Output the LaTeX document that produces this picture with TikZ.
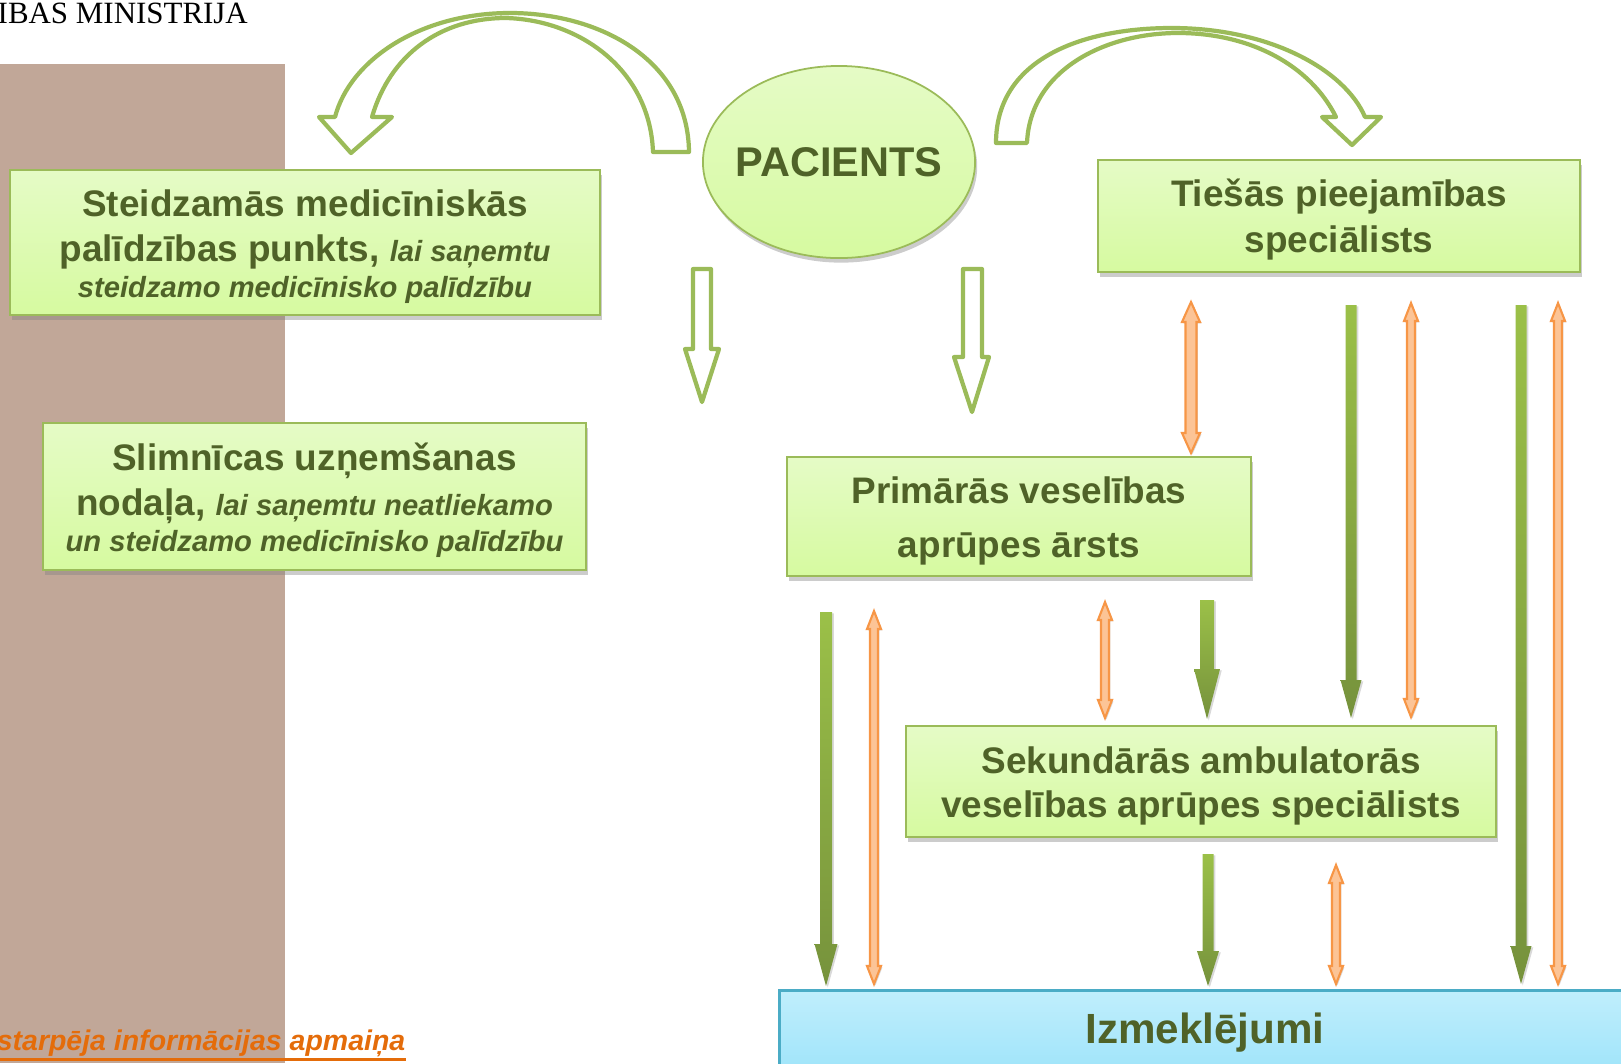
\documentclass[tikz,border=0pt]{standalone}
\usepackage{fontspec}
\setmainfont{Liberation Sans}
\newfontfamily\ministryfont{Liberation Serif}
\usetikzlibrary{arrows.meta,positioning,shapes.geometric,shadows,calc}

\definecolor{boxline}{RGB}{155,187,89}
\definecolor{boxtop}{RGB}{229,251,198}
\definecolor{boxbot}{RGB}{214,250,160}
\definecolor{boxtext}{RGB}{79,98,40}
\definecolor{arrtop}{RGB}{155,192,72}
\definecolor{arrbot}{RGB}{118,146,60}
\definecolor{oraline}{RGB}{247,150,70}
\definecolor{orafill}{RGB}{252,196,150}
\definecolor{brownbar}{RGB}{193,167,152}
\definecolor{izmline}{RGB}{75,172,198}
\definecolor{izmtop}{RGB}{192,238,252}
\definecolor{izmbot}{RGB}{158,228,250}
\definecolor{linkora}{RGB}{228,108,10}

\newcommand{\smit}{\itshape\fontsize{8.3}{10}\selectfont}
\newcommand{\topgap}{\rule{0pt}{10pt}}

\begin{document}
\begin{tikzpicture}[x=0.01cm, y=-0.01cm,
  box/.style={draw=boxline, line width=0.5pt, top color=boxtop, bottom color=boxbot,
    text=boxtext, font=\bfseries\fontsize{10.5}{12.8}\selectfont, align=center, inner sep=0pt,
    drop shadow={shadow xshift=0.6pt, shadow yshift=-1.3pt, opacity=0.4}},
  hollow/.style={draw=boxline, line width=1.2pt, fill=white, line join=round},
  greenarr/.style={top color=arrtop, bottom color=arrbot,
    drop shadow={shadow xshift=0.5pt, shadow yshift=-0.4pt, opacity=0.3}},
  orangearr/.style={draw=oraline, fill=orafill, line width=0.6pt,
    drop shadow={shadow xshift=0.4pt, shadow yshift=-0.4pt, opacity=0.3}}]
  \useasboundingbox (0,0) rectangle (1621,1063);

  % background bar and heading
  \fill[brownbar] (0,64) rectangle (285,1063);
  \node[anchor=base west, inner sep=0pt, font=\ministryfont\fontsize{8.8}{10}\selectfont] (ministry) at (-3,23) {IBAS MINISTRIJA};

  % boxes
  \node[box, minimum width=5.9cm, minimum height=1.45cm] (steid) at (305,242.5)
    {\topgap Steidzamās medicīniskās\\ palīdzības punkts, {\smit lai saņemtu}\\[-2.5pt] {\smit steidzamo medicīnisko palīdzību}};
  \node[box, minimum width=5.43cm, minimum height=1.47cm] (slim) at (314.5,496.5)
    {\topgap Slimnīcas uzņemšanas\\ nodaļa, {\smit lai saņemtu neatliekamo}\\[-2.6pt] {\smit un steidzamo medicīnisko palīdzību}};
  \node[box, ellipse, inner xsep=-3pt, minimum width=2.72cm, minimum height=1.92cm, font=\bfseries\fontsize{11.8}{14}\selectfont] (pac) at (839,162) {PACIENTS};
  \node[box, minimum width=4.82cm, minimum height=1.12cm, font=\bfseries\fontsize{10.5}{13}\selectfont] (ties) at (1339,216)
    {\topgap Tiešās pieejamības\\ speciālists};
  \node[box, minimum width=4.64cm, minimum height=1.19cm, font=\bfseries\fontsize{10.5}{15.4}\selectfont] (prim) at (1019,516.5)
    {\topgap Primārās veselības\\ aprūpes ārsts};
  \node[box, minimum width=5.9cm, minimum height=1.11cm, font=\bfseries\fontsize{10.5}{12.6}\selectfont] (sek) at (1201,781.5)
    {\topgap Sekundārās ambulatorās\\ veselības aprūpes speciālists};
  \node[draw=izmline, line width=0.8pt, top color=izmtop, bottom color=izmbot, text=boxtext,
    font=\bfseries\fontsize{12}{14}\selectfont, minimum width=8.5cm, minimum height=0.85cm] (izm) at (1205,1033) {Izmeklējumi};

  % curved hollow arrows from the patient
  \draw[hollow] (689,152) .. controls (688,60) and (600,13) .. (510,13)
    .. controls (420,13) and (350,60) .. (335,117) -- (319,117) -- (351,153) -- (392,117) -- (372,117)
    .. controls (390,55) and (440,18) .. (506,18) .. controls (580,20) and (650,70) .. (653,152) -- cycle;
  \draw[hollow] (996,143) .. controls (996,60) and (1080,28) .. (1172,28)
    .. controls (1270,28) and (1345,70) .. (1365,117) -- (1381,117) -- (1352,145) -- (1322,117) -- (1336,117)
    .. controls (1310,65) and (1250,33) .. (1178,33) .. controls (1105,33) and (1030,70) .. (1027,143) -- cycle;

  % straight hollow arrows
  \draw[hollow] (693,269) -- (711,269) -- (711,349) -- (719,349) -- (702,402) -- (685,349) -- (693,349) -- cycle;
  \draw[hollow] (963,269) -- (982,269) -- (982,357) -- (989,357) -- (972,412) -- (954,357) -- (963,357) -- cycle;

  % arrow ends
  \coordinate (g1a) at (826,612);  \coordinate (g1b) at (826,986);
  \coordinate (g2a) at (1207,600); \coordinate (g2b) at (1207,719);
  \coordinate (g3a) at (1351,305); \coordinate (g3b) at (1351,718);
  \coordinate (g4a) at (1521,305); \coordinate (g4b) at (1521,984);
  \coordinate (g5a) at (1208,854); \coordinate (g5b) at (1208,986);
  \coordinate (o1a) at (1191,302); \coordinate (o1b) at (1191,453);
  \coordinate (o2a) at (1411,303); \coordinate (o2b) at (1411,717);
  \coordinate (o3a) at (1558,303); \coordinate (o3b) at (1558,984);
  \coordinate (o4a) at (874,611);  \coordinate (o4b) at (874,984);
  \coordinate (o5a) at (1105,602); \coordinate (o5b) at (1105,718);
  \coordinate (o6a) at (1336,865); \coordinate (o6b) at (1336,984);

  % referrals (green, one way)
  \foreach \a/\b/\s/\h/\l in {g1a/g1b/6/11.5/42, g2a/g2b/7/13/50, g3a/g3b/5.5/10.5/38, g4a/g4b/5.5/10.5/38, g5a/g5b/5.5/11/35}
    \shade[greenarr] ($(\a)+(-\s,0)$) -- ($(\a)+(\s,0)$) -- ($(\b)+(\s,-\l)$) -- ($(\b)+(\h,-\l)$) -- (\b)
      -- ($(\b)+(-\h,-\l)$) -- ($(\b)+(-\s,-\l)$) -- cycle;

  % information exchange (orange, both ways)
  \foreach \a/\b/\s/\h/\l in {o1a/o1b/5.5/9/20, o2a/o2b/4/7/18, o3a/o3b/4/7/18, o4a/o4b/4/7/18, o5a/o5b/4/7/18, o6a/o6b/4/7/18}
    \draw[orangearr] (\a) -- ($(\a)+(\h,\l)$) -- ($(\a)+(\s,\l)$) -- ($(\b)+(\s,-\l)$) -- ($(\b)+(\h,-\l)$) -- (\b)
      -- ($(\b)+(-\h,-\l)$) -- ($(\b)+(-\s,-\l)$) -- ($(\a)+(-\s,\l)$) -- ($(\a)+(-\h,\l)$) -- cycle;

  % legend
  \node[anchor=base east, inner sep=0pt, text=linkora, font=\bfseries\itshape\fontsize{8.1}{10}\selectfont] (exchange) at (406,1050)
    {starpēja informācijas apmaiņa};
  \draw[linkora, line width=0.8pt] ([yshift=-0.6pt]exchange.south west) -- ([yshift=-0.6pt]exchange.south east);
\end{tikzpicture}
\end{document}
